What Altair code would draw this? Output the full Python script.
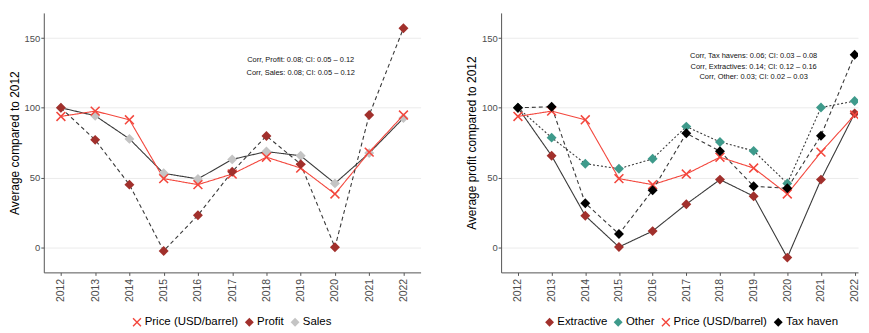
import altair as alt
import pandas as pd

years = ["2012", "2013", "2014", "2015", "2016", "2017", "2018", "2019", "2020", "2021", "2022"]

# Left panel
price = [93.8, 97.6, 91.4, 49.2, 44.9, 52.5, 64.6, 56.8, 38.2, 68.2, 94.8]
profit = [100, 77.0, 44.9, -2.6, 23.0, 54.2, 79.8, 59.6, 0.0, 94.8, 157.0]
sales = [100, 94.3, 77.7, 53.0, 49.0, 63.0, 68.6, 65.6, 45.8, 67.5, 92.6]

# Right panel
extractive = [100, 65.6, 22.6, 0.2, 11.6, 30.9, 48.5, 36.6, -7.4, 48.5, 96.0]
other = [100, 78.6, 59.9, 56.3, 63.4, 86.5, 75.5, 69.1, 45.8, 100.2, 104.8]
tax_haven = [100, 100.7, 31.6, 9.5, 40.9, 81.7, 68.9, 43.7, 42.3, 80.0, 138.0]

left_series = ["Price (USD/barrel)", "Profit", "Sales"]
right_series = ["Extractive", "Other", "Price (USD/barrel)", "Tax haven"]

left_notes = ["Corr, Profit: 0.08; CI: 0.05 – 0.12", "Corr, Sales: 0.08; CI: 0.05 – 0.12"]
left_note_y = [134, 125]
right_notes = ["Corr, Tax havens: 0.06; CI: 0.03 – 0.08",
               "Corr, Extractives: 0.14; CI: 0.12 – 0.16",
               "Corr, Other: 0.03; CI: 0.02 – 0.03"]
right_note_y = [137.2, 129.4, 121.7]
note_year = "2019"

RED = "#F3473D"
DARKRED = "#A1302C"
GREY = "#C4C4C4"
TEAL = "#3E9A8B"
LINE = "#3a3a3a"
XPATH = "M-1,-0.78L-0.78,-1L0,-0.22L0.78,-1L1,-0.78L0.22,0L1,0.78L0.78,1L0,0.22L-0.78,1L-1,0.78L-0.22,0Z"


def long_df(series_names, arrays):
    rows = []
    for name, arr in zip(series_names, arrays):
        for y, v in zip(years, arr):
            rows.append({"year": y, "value": v, "series": name, "line_series": name})
    return pd.DataFrame(rows)


def panel(df, notes_df, names, colors, shapes, strokes, dashes, ytitle, width, xscale, clip, legx):
    xenc = alt.X("year:O", scale=xscale,
                 axis=alt.Axis(title=None, labelAngle=270, labelFontSize=10.5, labelPadding=3))
    yenc = alt.Y("value:Q", scale=alt.Scale(domain=[-18, 168], nice=False, zero=False),
                 axis=alt.Axis(title=ytitle, values=[0, 50, 100, 150], labelFontSize=9.5,
                               titleFontSize=12, titleFontWeight="normal", titleColor="#000000",
                               titlePadding=3, labelPadding=1))
    base = alt.Chart(df).encode(x=xenc, y=yenc)
    # line scales are data-driven (series names sort into the same order as the ranges)
    lines = base.mark_line(strokeWidth=1.1, clip=clip).encode(
        stroke=alt.Stroke("line_series:N", scale=alt.Scale(range=strokes), legend=None),
        strokeDash=alt.StrokeDash("line_series:N", scale=alt.Scale(range=dashes), legend=None),
    )
    leg = alt.Legend(title=None, orient="none", direction="horizontal", legendX=legx, legendY=305)
    pts = base.mark_point(filled=True, size=100, opacity=1, clip=clip).encode(
        color=alt.Color("series:N", scale=alt.Scale(domain=names, range=colors), legend=leg),
        shape=alt.Shape("series:N", scale=alt.Scale(domain=names, range=shapes), legend=leg),
    )
    txt = alt.Chart(notes_df).mark_text(fontSize=7.5, color="#111111", align="center",
                                        baseline="middle").encode(
        x=alt.X("year:O", scale=xscale),
        y=alt.Y("y:Q"),
        text="note:N",
    )
    return alt.layer(lines, pts, txt).properties(width=width, height=261)


# data row order sets drawing order (Sales under Price under Profit)
left_df = long_df(["Sales", "Price (USD/barrel)", "Profit"], [sales, price, profit])
right_df = long_df(right_series, [extractive, other, price, tax_haven])
left_notes_df = pd.DataFrame({"year": [note_year] * len(left_notes), "y": left_note_y, "note": left_notes})
right_notes_df = pd.DataFrame({"year": [note_year] * len(right_notes), "y": right_note_y, "note": right_notes})

left_x = alt.Scale(type="point", padding=0.5, domain=years)
right_x = alt.Scale(type="point", padding=0.3, align=0.8333, domain=years)

left = panel(left_df, left_notes_df, left_series,
             [RED, DARKRED, GREY], [XPATH, "diamond", "diamond"],
             [RED, LINE, LINE], [[1, 0], [4, 3], [1, 0]],
             "Average compared to 2012", 379, left_x, False, 88)
right = panel(right_df, right_notes_df, right_series,
              [DARKRED, TEAL, RED, "#000000"], ["diamond", "diamond", XPATH, "diamond"],
              [LINE, LINE, RED, LINE], [[1, 0], [2, 2], [1, 0], [4, 3]],
              "Average profit compared to 2012", 359, right_x, True, 43)

chart = alt.hconcat(left, right, spacing=45).resolve_scale(
    color="independent", shape="independent", stroke="independent",
    strokeDash="independent", x="independent", y="independent"
).resolve_legend(color="independent", shape="independent").configure(
    font="Liberation Sans", padding={"top": 4, "left": 0, "right": 0, "bottom": 0}
).configure_view(stroke=None).configure_axis(
    domainColor="#555555", domainWidth=1, tickColor="#555555", tickSize=3,
    gridColor="#EBEBEB", gridWidth=1, labelColor="#4D4D4D", labelFont="Liberation Sans",
    titleFont="Liberation Sans"
).configure_legend(
    labelFontSize=11.5, labelColor="#000000", symbolSize=80, symbolStrokeWidth=0,
    labelOffset=2, columnPadding=5, padding=0
)

chart.save("out.html", embed_options={"renderer": "svg", "actions": False})
